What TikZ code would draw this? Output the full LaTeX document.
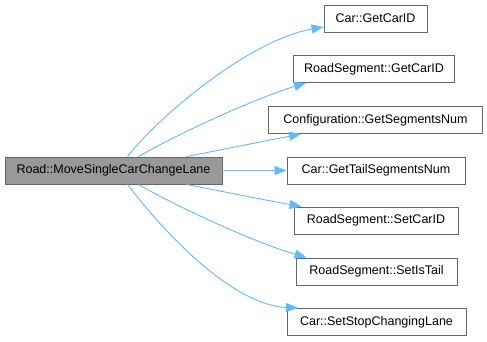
\documentclass[tikz,border=0pt]{standalone}
\usepackage{fontspec}
\setmainfont{Liberation Sans}
\usetikzlibrary{arrows.meta}
\definecolor{edgeblue}{HTML}{63B8FF}
\definecolor{boxline}{HTML}{666666}
\definecolor{rootfill}{HTML}{999999}
\begin{document}
\begin{tikzpicture}[x=1pt,y=-1pt,
  fn/.style={draw=boxline,line width=0.9pt,fill=white,minimum height=27pt,
    inner sep=0pt,font=\fontsize{12.5}{15}\selectfont,text=black},
  rootfn/.style={fn,fill=rootfill},
  call/.style={draw=edgeblue,line width=0.9pt,
    -{Triangle[length=12pt,width=9pt,fill=edgeblue]}}]
\useasboundingbox (0,0) rectangle (487,341);

% caller
\node[rootfn,minimum width=217pt] (root) at (113.5,170.5) {Road::MoveSingleCarChangeLane};

% callees
\node[fn,minimum width=103pt] (c1) at (375.5,18.5)  {Car::GetCarID};
\node[fn,minimum width=161pt] (c2) at (374,69)      {RoadSegment::GetCarID};
\node[fn,minimum width=214pt] (c3) at (375.5,120)   {Configuration::GetSegmentsNum};
\node[fn,minimum width=178pt] (c4) at (376,170.5)   {Car::GetTailSegmentsNum};
\node[fn,minimum width=164pt] (c5) at (376,220.5)   {RoadSegment::SetCarID};
\node[fn,minimum width=161pt] (c6) at (376.5,271.5) {RoadSegment::SetIsTail};
\node[fn,minimum width=179pt] (c7) at (376.5,322)   {Car::SetStopChangingLane};

% calls
\draw[call] ([xshift=123pt]root.north west) .. controls (160,115) and (250,40) .. ([yshift=-8.5pt]c1.west);
\draw[call] ([xshift=134pt]root.north west) .. controls (170,138) and (250,100) .. ([xshift=13pt]c2.south west);
\draw[call] ([xshift=182pt]root.north west) .. controls (230,148) and (270,140) .. ([xshift=33pt]c3.south west);
\draw[call] (root.east) -- (c4.west);
\draw[call] ([xshift=182pt]root.south west) .. controls (230,193) and (270,201) .. ([xshift=8pt]c5.north west);
\draw[call] ([xshift=134pt]root.south west) .. controls (170,203) and (250,241) .. ([xshift=11pt]c6.north west);
\draw[call] ([xshift=123pt]root.south west) .. controls (170,240) and (235,305) .. ([xshift=11.5pt]c7.north west);
\end{tikzpicture}
\end{document}
